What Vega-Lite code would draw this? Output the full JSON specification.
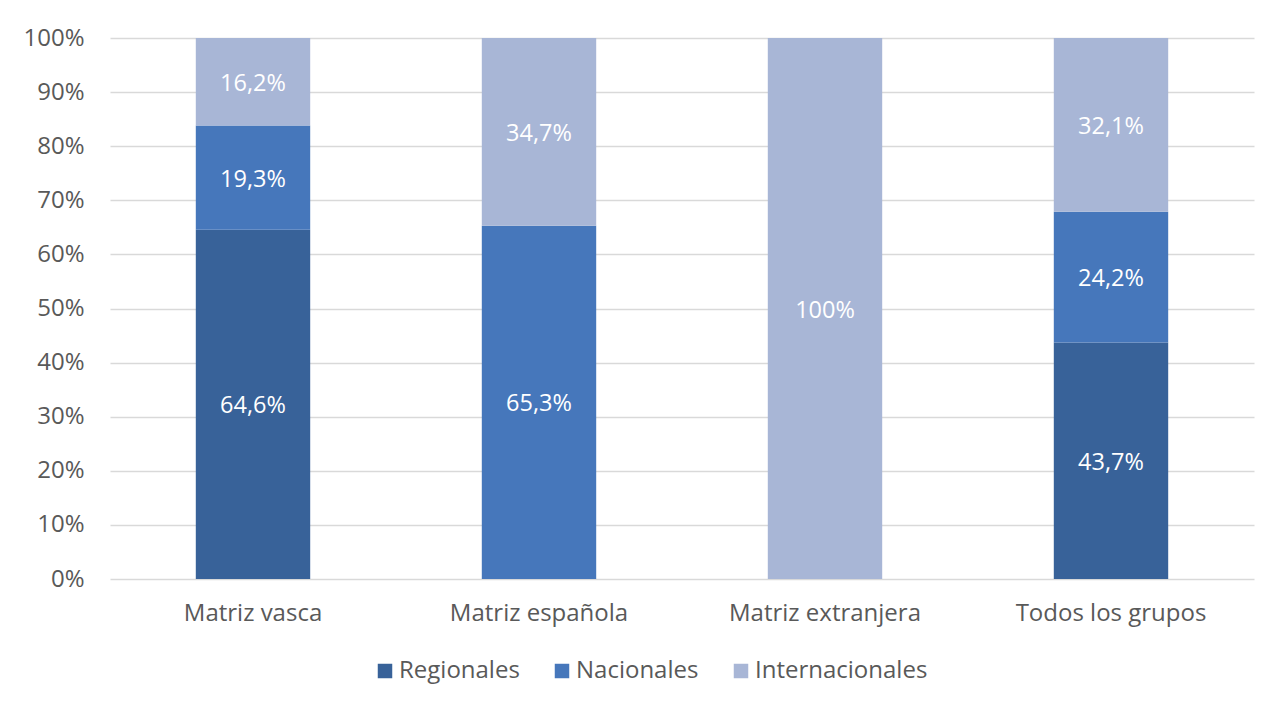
{
  "$schema": "https://vega.github.io/schema/vega-lite/v6.json",
  "autosize": "none",
  "width": 1144,
  "height": 541,
  "padding": {"left": 110, "top": 38, "right": 17, "bottom": 125},
  "background": "white",
  "data": {
    "values": [
      {"grupo": "Matriz vasca", "tipo": "Regionales", "orden": 1, "valor": 64.6, "etiqueta": "64,6%"},
      {"grupo": "Matriz vasca", "tipo": "Nacionales", "orden": 2, "valor": 19.3, "etiqueta": "19,3%"},
      {"grupo": "Matriz vasca", "tipo": "Internacionales", "orden": 3, "valor": 16.2, "etiqueta": "16,2%"},
      {"grupo": "Matriz española", "tipo": "Nacionales", "orden": 2, "valor": 65.3, "etiqueta": "65,3%"},
      {"grupo": "Matriz española", "tipo": "Internacionales", "orden": 3, "valor": 34.7, "etiqueta": "34,7%"},
      {"grupo": "Matriz extranjera", "tipo": "Internacionales", "orden": 3, "valor": 100, "etiqueta": "100%"},
      {"grupo": "Todos los grupos", "tipo": "Regionales", "orden": 1, "valor": 43.7, "etiqueta": "43,7%"},
      {"grupo": "Todos los grupos", "tipo": "Nacionales", "orden": 2, "valor": 24.2, "etiqueta": "24,2%"},
      {"grupo": "Todos los grupos", "tipo": "Internacionales", "orden": 3, "valor": 32.1, "etiqueta": "32,1%"}
    ]
  },
  "encoding": {
    "x": {
      "field": "grupo",
      "type": "nominal",
      "sort": ["Matriz vasca", "Matriz española", "Matriz extranjera", "Todos los grupos"],
      "scale": {"paddingInner": 0.6, "paddingOuter": 0.3},
      "axis": {"title": null, "labelAngle": 0, "ticks": false, "domain": false, "labelPadding": 22, "labelLimit": 0}
    },
    "y": {
      "field": "valor",
      "type": "quantitative",
      "stack": "normalize",
      "scale": {"domain": [0, 1]},
      "axis": {"title": null, "format": ".0%", "values": [0, 0.1, 0.2, 0.3, 0.4, 0.5, 0.6, 0.7, 0.8, 0.9, 1], "ticks": false, "domain": false, "labelPadding": 26, "gridColor": "#d9d9d9", "gridWidth": 1.3}
    },
    "order": {"field": "orden", "type": "quantitative"}
  },
  "layer": [
    {
      "mark": {"type": "bar"},
      "encoding": {
        "color": {
          "field": "tipo",
          "type": "nominal",
          "sort": ["Regionales", "Nacionales", "Internacionales"],
          "scale": {"domain": ["Regionales", "Nacionales", "Internacionales"], "range": ["#386299", "#4677bb", "#a8b6d6"]},
          "legend": {
            "title": null,
            "orient": "none",
            "direction": "horizontal",
            "legendX": 263,
            "legendY": 621,
            "symbolType": "square",
            "symbolSize": 210,
            "symbolStrokeWidth": 0,
            "labelOffset": 2,
            "columnPadding": 30,
            "labelLimit": 0
          }
        }
      }
    },
    {
      "mark": {"type": "text", "color": "white", "fontSize": 23.5, "dy": 2},
      "encoding": {
        "y": {"field": "valor", "type": "quantitative", "stack": "normalize", "bandPosition": 0.5},
        "text": {"field": "etiqueta"}
      }
    }
  ],
  "config": {
    "font": "Open Sans",
    "view": {"stroke": null},
    "axis": {"labelFont": "Open Sans", "labelFontSize": 24, "labelColor": "#595959", "labelFontWeight": "normal"},
    "legend": {"labelFont": "Open Sans", "labelFontSize": 24, "labelColor": "#595959"}
  }
}
